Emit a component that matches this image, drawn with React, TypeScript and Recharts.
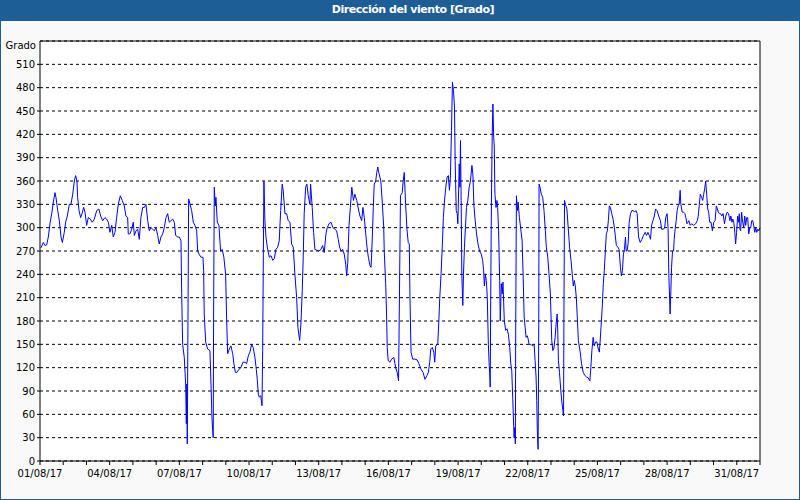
import React from 'react';
import { LineChart, Line, XAxis, YAxis, CartesianGrid, ReferenceLine } from 'recharts';

// Hours since 01/08/17 00:00 and wind direction in degrees
const hours = [
  1, 3.4, 5.2, 6.9, 8.6, 10.3, 12.1, 13.8, 15.5, 16.5, 18.3, 20, 21.7, 23.1, 25.1, 26.5, 28.2, 30.3, 32, 33.8,
  35.5, 36.8, 38.2, 38.9, 40.3, 42, 43.4, 45.1, 46.5, 48.2, 49.9, 52, 54, 56.1, 58.6, 60.9, 62.7, 64.7, 67.1, 68.9,
  70.6, 72.3, 74.1, 75.7, 77.5, 79.2, 80.9, 83, 85, 87.1, 88.8, 90.6,
  91.2, 93, 94.7, 96.4, 97.5, 99.2, 100.9, 102.6, 104.3, 106.1, 107.8, 109.5, 111.3, 112.9, 114.7, 116.4, 118.1, 119.8,
  121.6, 123.2, 125, 126.8, 128.4, 130.2, 131.9, 133.6, 135.3, 137.1, 138.8, 140.2, 142.3, 144, 145.7, 146.4, 147.4, 149.1,
  150.5, 151.2, 151.7, 152.2, 152.9, 153.6, 155, 156.7, 158.4, 160.1, 161.9, 162.9, 164.3, 166.3, 168.4, 169.1, 169.7, 171.2,
  173.2, 175.6, 176.6, 177.7, 178.4, 179, 179.4, 180.1, 181.1, 181.8, 183.2, 184.9,
  186.6, 188.3, 190, 191.8, 192.8, 193.9, 195.6, 197.3, 199.1, 200.4, 201.8, 203.5, 205.6, 207.6, 209.7, 211.8, 213.5, 215.2,
  216.9, 218.7, 220.3, 222.1, 223.5, 224.5, 225.6, 226.6, 228.1, 229.4, 230.1, 230.8, 231.4, 232.4, 233.5, 235.2, 237, 238.7,
  240.5, 242.1, 243.8, 245.6, 247.2, 248.7, 250.3, 251.3, 253.1, 254.8, 256.5, 258.3, 260, 261.7, 263.4, 265.2, 266.5, 268.3,
  269.6, 271, 272, 273, 274.5, 275.8, 277.2, 278.9,
  279.6, 281.3, 282.7, 284.1, 286.2, 288.2, 290.3, 292.1, 293.7, 295.5, 296.8, 298.6, 300.7, 302.7, 304.8, 306.5, 308.2, 309.6,
  311, 312.7, 314.4, 315.9, 316.9, 318, 319.3, 320.7, 322.2, 323.9, 325.4, 327.3, 329, 330.6, 332.4, 333.7, 335.1, 336.6,
  337.9, 339.3, 341, 342.1, 343.4, 344.4, 345.4, 346.9, 348, 349, 350.4, 352.2, 353.8, 355.2, 355.7, 357.2, 358.2, 358.8,
  359.8, 361.6, 363.3, 365.7, 367.5, 369.1, 370.5, 371.5,
  372.5, 374.3, 375.3, 376.4, 377.8, 379.2, 380.5, 381.6, 382.3, 383.4, 385.1, 387.5, 389.6, 391.6, 393.7, 395.8, 397.8, 399.9,
  401.3, 402.7, 403.8, 405.4, 406.9, 407.9, 408.9, 411, 412, 413.1, 414.4, 415.8, 416.8, 417.9, 419.3, 420.7, 422, 423.1,
  424.1, 425.2, 426.2, 427.3, 428.3, 429, 430.1, 431.1, 431.8, 432.4, 433.2, 433.9, 434.5, 435.2, 435.9, 436.9, 437.6, 438.6,
  439.6, 440.7, 442.1, 443.5, 444.8, 446.3, 447.3, 448.4, 449.7, 451.1, 452.6, 454.2, 456, 457.4, 458.4, 459.2, 460.2, 461.2,
  462.2, 463.3, 464.2, 464.9, 465.2,
  465.9, 466.6, 467.3, 468, 468.8, 469.4, 470.1, 471.2, 472.2, 472.9, 473.9, 475, 475.6, 476.7, 477.7, 478.4, 479.8, 481.2,
  482.6, 484, 485.4, 486.5, 487.5, 488.5, 489.9, 490.6, 491.2, 491.6, 492.3, 493.3, 494, 495.4, 496.8, 498.2, 499.2, 500.3,
  501.3, 502.3, 503.4, 504.4, 505.4, 507.2, 508.8, 510.6, 511.6, 512.6, 513.3, 513.9, 514.7, 515.4, 515.7, 516.7, 518, 519.5,
  520.8, 522.2, 523.2, 524.7, 526, 527.4, 528.8, 529.9, 530.9, 532.3, 533.3, 534.4, 535.1, 535.7, 536.8, 538.2, 539.3, 540.3,
  541, 541.4, 542, 543, 544.5, 545.8, 547.2, 548.7, 550, 551.1, 552.1, 553.1, 554.2, 555.2, 556.3,
  558.2, 559.6, 561.3, 563, 564.8, 566.4, 568.2, 569.2, 570.3, 571.6, 572.7, 574.1, 575.5, 576.9, 578, 578.6, 579.7, 581,
  582.1, 583.1, 584.2, 585.2, 586.3, 587.3, 588.3, 589.4, 590.8, 592.2, 593.5, 594.6, 595.6, 597.1, 598.4, 599.8, 600.8, 601.9,
  602.9, 603.9, 605, 605.7, 606.7, 607.8, 608.8, 610.2, 611.6, 613, 614.3, 615.8, 617.1, 618.5, 620.2, 622, 623.6, 625.4,
  626.8, 628.2, 629.6, 630.9, 631.9, 633.4, 634.8, 636.1, 637.6, 639.3, 641.1, 642.4, 644.2, 645.5, 646.6, 648, 649, 649.8,
  651.1, 651.9, 652.6, 653.6, 654.7, 655.3, 656.3, 657.4, 658.4, 659.4, 660.5, 661.5, 662.2, 663.6, 665, 666.4, 667.4, 668.5,
  669.5, 670.5, 671.9, 673.4, 675.4, 677.5, 679.2, 680.2, 681.3, 682.3, 683.7, 684.8, 685.8, 686.8, 687.9, 688.9, 690, 691,
  692, 693.4, 694.8, 696.2, 697.6, 698.9, 700, 701, 702.1, 703.2, 704.5, 705.9, 707.3, 708.7, 710.1, 711.5, 712.9, 713.9,
  715, 716, 717.1, 718.1, 718.8, 719.8, 720.9, 721.9, 722.6, 723.3, 724, 725, 726.1, 727.2, 728.2, 729.2, 730.3, 731.3,
  732.4, 733.4, 734.4, 735.5, 736.5, 737.5, 738.6, 739.6, 740.6, 741.7, 742.7, 744,
];

const grados = [
  274, 281, 277, 278, 288, 305, 318, 333, 345, 339, 322, 309, 288, 281, 294, 307, 315, 330, 330, 343,
  360, 367, 360, 339, 322, 313, 318, 326, 320, 303, 313, 311, 307, 311, 322, 324, 315, 309, 313, 311,
  307, 294, 303, 288, 294, 313, 330, 341, 335, 328, 315, 313,
  292, 292, 298, 307, 290, 296, 298, 285, 313, 326, 326, 330, 309, 296, 300, 298, 296, 300,
  290, 279, 288, 292, 300, 313, 318, 307, 309, 311, 307, 290, 288, 288, 283, 215, 150, 133,
  99, 48, 99, 22, 180, 337, 330, 322, 307, 303, 296, 270, 266, 262, 262, 245, 189, 153,
  144, 142, 103, 56, 39, 30, 189, 352, 328, 339, 307, 303,
  270, 272, 262, 240, 185, 138, 144, 148, 138, 125, 114, 114, 118, 120, 127, 127, 125, 135,
  140, 150, 146, 133, 118, 105, 86, 82, 84, 71, 142, 266, 360, 309, 288, 272, 262, 264,
  258, 260, 272, 275, 283, 322, 356, 348, 318, 318, 309, 307, 279, 275, 240, 210, 172, 155,
  176, 219, 262, 318, 352, 356, 341, 330,
  356, 326, 294, 272, 271, 270, 272, 277, 268, 292, 300, 305, 307, 300, 298, 296, 285, 275,
  270, 272, 266, 253, 238, 255, 303, 326, 352, 335, 343, 335, 324, 315, 309, 326, 313, 292,
  275, 262, 251, 249, 288, 326, 356, 360, 371, 378, 369, 360, 330, 300, 270, 228, 185, 146,
  129, 127, 131, 133, 120, 114, 103, 221,
  341, 345, 360, 371, 330, 298, 281, 279, 210, 140, 131, 131, 130, 125, 118, 114, 105, 110,
  114, 127, 144, 146, 140, 127, 148, 150, 176, 210, 240, 279, 313, 333, 352, 365, 367, 348,
  365, 425, 487, 476, 455, 386, 322, 318, 305, 337, 382, 352, 412, 335, 240, 200, 240, 275,
  300, 326, 335, 352, 360, 380, 369, 328, 309, 292, 279, 270, 266, 258, 245, 225, 240, 232,
  210, 150, 123, 108, 95,
  240, 350, 420, 459, 416, 405, 343, 326, 335, 326, 296, 232, 180, 228, 215, 230, 180, 168,
  170, 163, 146, 125, 116, 80, 30, 43, 22, 180, 341, 322, 333, 313, 298, 283, 240, 185,
  172, 159, 161, 157, 150, 150, 148, 150, 129, 108, 78, 39, 15, 176, 356, 352, 343, 339,
  322, 296, 275, 262, 240, 215, 155, 142, 144, 159, 176, 189, 163, 129, 114, 90, 75, 65,
  58, 185, 335, 330, 324, 300, 275, 258, 240, 225, 232, 225, 210, 185, 155,
  140, 125, 114, 110, 108, 107, 103, 120, 142, 159, 148, 153, 153, 144, 140, 150, 172, 198,
  228, 245, 270, 292, 296, 309, 328, 326, 318, 311, 300, 288, 277, 275, 272, 249, 238, 245,
  266, 272, 288, 270, 270, 281, 307, 318, 322, 322, 320, 322, 318, 288, 281, 285, 290, 294,
  290, 294, 290, 285, 303, 309, 315, 324, 322, 315, 309, 298, 298, 300, 313, 318, 300, 240,
  189, 219, 249, 270, 270, 285, 298, 309, 322, 328, 330, 348, 330, 320, 320, 318, 313, 305,
  307, 309, 303, 305, 303, 305, 309, 315, 330, 343, 339, 335, 343, 350, 360, 343, 324, 320,
  307, 307, 296, 307, 309, 328, 324, 320, 318, 318, 315, 318, 305, 315, 320, 318, 309, 315,
  307, 311, 305, 292, 279, 294, 315, 307, 318, 298, 296, 320, 307, 300, 315, 303, 313, 313,
  292, 300, 300, 309, 309, 303, 294, 300, 294, 298, 296, 300,
];

const dayTickHours = [
  0, 24, 48, 72, 96, 120, 144, 168, 192, 216, 240, 264, 288, 312, 336, 360, 384, 408, 432, 456,
  480, 504, 528, 552, 576, 600, 624, 648, 672, 696, 720, 744,
];
const majorTickHours = [0, 72, 144, 216, 288, 360, 432, 504, 576, 648, 720];
const majorTickLabels = [
  '01/08/17', '04/08/17', '07/08/17', '10/08/17', '13/08/17', '16/08/17',
  '19/08/17', '22/08/17', '25/08/17', '28/08/17', '31/08/17',
];
const leftTicks = [0, 30, 60, 90, 120, 150, 180, 210, 240, 270, 300, 330, 360, 390, 420, 450, 480, 510];
const rightTicks = [0, 45, 90, 135, 180, 225, 270, 315, 360, 405, 450, 495, 540];
const compassLabels = ['N', 'NE', 'E', 'SE', 'S', 'SO', 'O', 'NO', 'N', 'NE', 'E', 'SE', 'S'];

const data = hours.map((h, i) => ({ h, v: grados[i] }));

const FONT = 'DejaVu Sans, Verdana, sans-serif';
const BLUE = '#1e5e96';
const tickStyle = { fill: '#000', fontSize: 10, fontFamily: FONT };

export default function App() {
  return (
    <div style={{ position: 'absolute', left: 0, top: 0, width: 800, height: 500, background: '#f9f9f9', overflow: 'hidden' }}>
      <div
        style={{
          position: 'absolute', left: 0, top: 0, width: 800, height: 21, background: BLUE,
        }}
      />
      <div
        style={{
          position: 'absolute', left: 0, top: 0, width: 826, height: 21, lineHeight: '20px',
          textAlign: 'center', color: '#fff', fontWeight: 'bold', fontSize: 11, fontFamily: FONT,
          letterSpacing: '-0.45px',
        }}
      >
        Dirección del viento [Grado]
      </div>
      <div
        style={{
          position: 'absolute', left: 0, top: 40, width: 36, textAlign: 'right',
          fontSize: 10, lineHeight: '12px', fontFamily: FONT, color: '#000',
        }}
      >
        Grado
      </div>
      <div style={{ position: 'absolute', left: 0, top: 0 }}>
        <LineChart width={800} height={500} data={data} margin={{ top: 41, right: 0, bottom: 9, left: 0 }}>
          <CartesianGrid
            yAxisId="l"
            stroke="#000"
            strokeDasharray="3 3"
            fill="#fff"
            fillOpacity={1}
            verticalCoordinatesGenerator={(p: any) => {
              const s = p && p.xAxis && p.xAxis.scale;
              return typeof s === 'function' ? majorTickHours.map((t) => s(t)) : [];
            }}
          />
          <XAxis
            dataKey="h"
            type="number"
            domain={[0, 744]}
            ticks={dayTickHours}
            interval={0}
            height={30}
            tickSize={4}
            tickMargin={5}
            stroke="#000"
            tick={tickStyle}
            tickFormatter={(v: number) => {
              const i = majorTickHours.indexOf(v);
              return i >= 0 ? majorTickLabels[i] : '';
            }}
          />
          <YAxis
            yAxisId="l"
            domain={[0, 540]}
            ticks={leftTicks}
            interval={0}
            width={40}
            tickSize={3}
            tickMargin={2}
            stroke="#000"
            tick={tickStyle}
          />
          <YAxis
            yAxisId="r"
            orientation="right"
            domain={[0, 540]}
            ticks={rightTicks}
            interval={0}
            width={40}
            tickSize={3}
            tickMargin={2}
            stroke="#000"
            tick={tickStyle}
            tickFormatter={(v: number) => {
              const i = rightTicks.indexOf(v);
              return i >= 0 ? compassLabels[i] : '';
            }}
          />
          <ReferenceLine yAxisId="l" y={540} stroke="#000" strokeWidth={1} />
          <Line
            yAxisId="l"
            type="linear"
            dataKey="v"
            stroke="#0000ff"
            strokeWidth={1}
            dot={false}
            activeDot={false}
            isAnimationActive={false}
          />
        </LineChart>
      </div>
      <div
        style={{
          position: 'absolute', left: 0, top: 0, width: 800, height: 500, boxSizing: 'border-box',
          border: `1px solid ${BLUE}`, pointerEvents: 'none',
        }}
      />
    </div>
  );
}
